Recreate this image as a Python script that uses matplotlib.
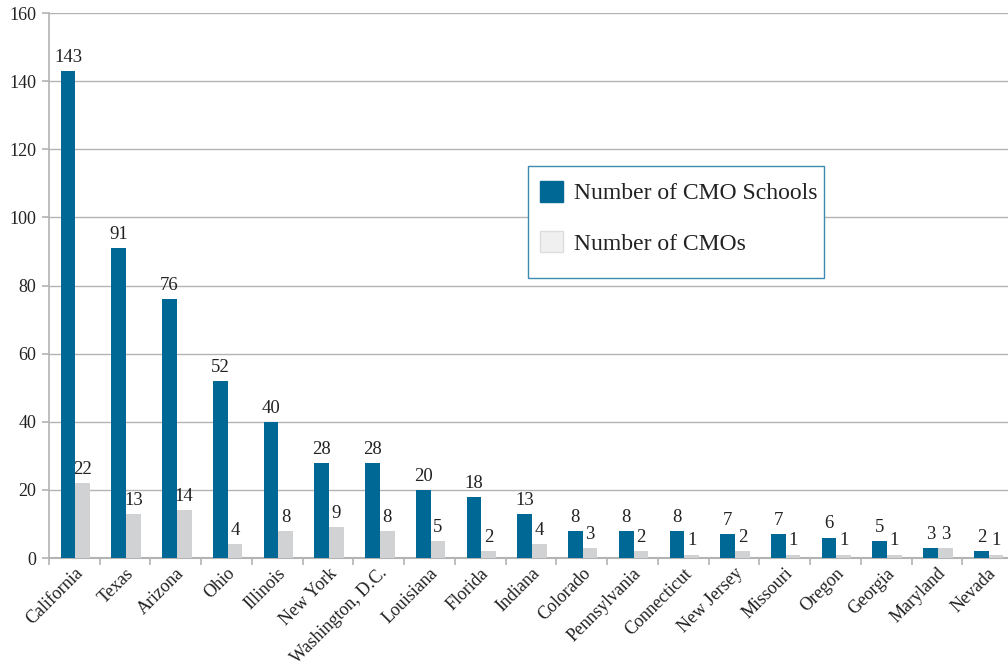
import matplotlib
matplotlib.use("Agg")
import matplotlib.pyplot as plt
import numpy as np
from matplotlib.patches import Patch, Rectangle

states = ["California", "Texas", "Arizona", "Ohio", "Illinois", "New York",
          "Washington, D.C.", "Louisiana", "Florida", "Indiana", "Colorado",
          "Pennsylvania", "Connecticut", "New Jersey", "Missouri", "Oregon",
          "Georgia", "Maryland", "Nevada"]
cmo_schools = [143, 91, 76, 52, 40, 28, 28, 20, 18, 13, 8, 8, 8, 7, 7, 6, 5, 3, 2]
cmos = [22, 13, 14, 4, 8, 9, 8, 5, 2, 4, 3, 2, 1, 2, 1, 1, 1, 3, 1]

plt.rcParams['font.family'] = ['Liberation Serif', 'DejaVu Serif']

BLUE = '#006894'
GRAY = '#d1d2d4'
GRID = '#b3b3b3'
W, H = 1008, 671

fig = plt.figure(figsize=(10.08, 6.71), dpi=100)
ax = fig.add_axes([0.0486, 0.1684, 0.9564, 0.8122])

x = np.arange(len(states))
w = 0.29
ax.bar(x - w / 2 + 0.02, cmo_schools, width=w, color=BLUE, zorder=3)
ax.bar(x + w / 2 + 0.02, cmos, width=w, color=GRAY, zorder=3)

for xi, v in zip(x, cmo_schools):
    ax.text(xi - w / 2 + 0.02, v + 1.5, str(v), ha='center', va='bottom',
            fontsize=13.5, color='#222222')
for xi, v in zip(x, cmos):
    ax.text(xi + w / 2 + 0.02, v + 1.5, str(v), ha='center', va='bottom',
            fontsize=13.5, color='#222222')

ax.set_xlim(-0.5, len(states) - 0.5)
ax.set_ylim(0, 160)
ax.set_yticks(np.arange(0, 161, 20))
ax.yaxis.grid(True, color=GRID, linewidth=1.0, zorder=0)
ax.set_axisbelow(True)

ax.set_xticks(np.arange(-0.5, len(states), 1.0))
ax.set_xticklabels([])
ax.set_xticks(x, minor=True)
ax.set_xticklabels(states, minor=True, rotation=45, ha='right',
                   rotation_mode='anchor', fontsize=13, color='#222222')
ax.tick_params(axis='x', which='minor', length=0, pad=5)
ax.tick_params(axis='x', which='major', length=5, color=GRID, width=1.2)
ax.tick_params(axis='y', length=5, color=GRID, width=1.2, labelsize=13,
               labelcolor='#222222', pad=4)

for s in ['top', 'right']:
    ax.spines[s].set_visible(False)
ax.spines['left'].set_color(GRID)
ax.spines['bottom'].set_color(GRID)
ax.spines['left'].set_linewidth(1.2)
ax.spines['bottom'].set_linewidth(1.5)

# legend frame
fig.patches.append(Rectangle((528 / W, 1 - 278 / H), (824 - 528) / W, (278 - 166) / H,
                             transform=fig.transFigure, facecolor='white',
                             edgecolor='#3d8bb0', linewidth=1.0, zorder=5))

handles = [Patch(facecolor=BLUE, edgecolor=BLUE, label='Number of CMO Schools'),
           Patch(facecolor='#f0f0f0', edgecolor='#dddddd', label='Number of CMOs')]
leg = fig.legend(handles=handles, loc='upper left',
                 bbox_to_anchor=(540 / W, 1 - 181 / H),
                 fontsize=17, frameon=False, handlelength=0.97,
                 handleheight=0.97, labelspacing=1.13, borderpad=0,
                 handletextpad=0.45, borderaxespad=0)
leg.set_zorder(6)
for t in leg.get_texts():
    t.set_color('#222222')

fig.savefig('out.png', dpi=100)
